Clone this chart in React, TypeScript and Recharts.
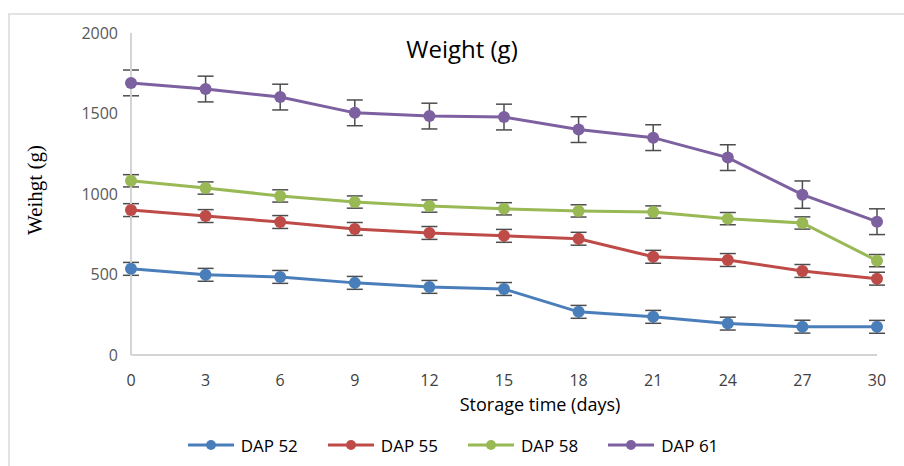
import { LineChart, Line, XAxis, YAxis, ErrorBar, Legend } from "recharts";

const days = [0, 3, 6, 9, 12, 15, 18, 21, 24, 27, 30];
const dap52 = [535, 498, 485, 448, 423, 410, 268, 237, 195, 176, 175];
const dap55 = [900, 863, 826, 783, 758, 740, 722, 610, 590, 522, 474];
const dap58 = [1082, 1037, 988, 950, 925, 908, 895, 888, 847, 820, 586];
const dap61 = [1690, 1652, 1602, 1504, 1484, 1478, 1400, 1350, 1226, 996, 828];
const err52 = [40, 40, 40, 40, 40, 40, 40, 40, 40, 40, 40];
const err55 = [40, 40, 40, 40, 40, 40, 40, 40, 40, 40, 40];
const err58 = [38, 38, 38, 38, 38, 38, 38, 38, 38, 38, 38];
const err61 = [80, 80, 80, 80, 80, 80, 80, 80, 80, 85, 80];
const yTicks = [0, 500, 1000, 1500, 2000];

const series = [
  { key: "dap52", err: "err52", name: "DAP 52", color: "#4a7ebb" },
  { key: "dap55", err: "err55", name: "DAP 55", color: "#be4b48" },
  { key: "dap58", err: "err58", name: "DAP 58", color: "#98b954" },
  { key: "dap61", err: "err61", name: "DAP 61", color: "#7d60a0" },
];

const data = days.map((d, i) => ({
  day: d,
  dap52: dap52[i],
  dap55: dap55[i],
  dap58: dap58[i],
  dap61: dap61[i],
  err52: err52[i],
  err55: err55[i],
  err58: err58[i],
  err61: err61[i],
}));

const font = "'Open Sans', sans-serif";

function LegendBox() {
  return (
    <div
      style={{
        height: 36,
        display: "flex",
        alignItems: "center",
        justifyContent: "center",
        gap: 30,
        paddingLeft: 2,
        fontFamily: font,
        fontSize: 17,
        color: "#000",
      }}
    >
      {series.map((s) => (
        <div key={s.key} style={{ display: "flex", alignItems: "center" }}>
          <svg width={46} height={14}>
            <line x1={0} y1={7} x2={46} y2={7} stroke={s.color} strokeWidth={3} />
            <circle cx={23} cy={7} r={5} fill={s.color} />
          </svg>
          <span style={{ marginLeft: 7 }}>{s.name}</span>
        </div>
      ))}
    </div>
  );
}

export default function App() {
  return (
    <div style={{ position: "absolute", left: 0, top: 0, width: 904, height: 466, background: "#fff" }}>
      <div
        style={{
          position: "absolute",
          left: 8,
          top: 13,
          width: 904,
          height: 466,
          borderTop: "2px solid #e3e3e3",
          borderLeft: "2px solid #e3e3e3",
        }}
      />
      <div style={{ position: "absolute", left: 0, top: 0 }}>
        <LineChart width={904} height={466} data={data} margin={{ top: 33, right: 27, left: 0, bottom: 3 }}>
          <XAxis
            dataKey="day"
            height={72}
            tickLine={false}
            tickSize={0}
            tickMargin={20}
            axisLine={{ stroke: "#d4d4d4", strokeWidth: 2 }}
            tick={{ fill: "#404040", fontSize: 16, fontFamily: font }}
            label={{
              value: "Storage time (days)",
              position: "insideTop",
              offset: 43,
              dx: 36,
              fill: "#000",
              fontSize: 18,
              fontFamily: font,
            }}
          />
          <YAxis
            width={131}
            domain={[0, 2000]}
            ticks={yTicks}
            tickLine={false}
            tickSize={0}
            tickMargin={13}
            axisLine={{ stroke: "#d4d4d4", strokeWidth: 2 }}
            tick={{ fill: "#595959", fontSize: 16, fontFamily: font }}
          />
          <Legend verticalAlign="bottom" height={36} wrapperStyle={{ left: 0, width: 904 }} content={() => <LegendBox />} />
          {series.map((s) => (
            <Line
              key={s.key}
              dataKey={s.key}
              name={s.name}
              stroke={s.color}
              strokeWidth={3}
              dot={{ r: 6, fill: s.color, stroke: s.color, strokeWidth: 0 }}
              isAnimationActive={false}
            >
              <ErrorBar dataKey={s.err} width={8} stroke="#4d4d4d" strokeWidth={1.5} direction="y" />
            </Line>
          ))}
          <text x={462} y={48} textAnchor="middle" dominantBaseline="central" fontSize={24} fontFamily={font} fill="#000">
            Weight (g)
          </text>
          <text
            x={35}
            y={190}
            transform="rotate(-90 35 190)"
            textAnchor="middle"
            dominantBaseline="central"
            fontSize={21}
            style={{ fontFamily: "'Liberation Serif', 'DejaVu Serif', serif" }}
            fill="#000"
          >
            Weihgt (g)
          </text>
        </LineChart>
      </div>
    </div>
  );
}
